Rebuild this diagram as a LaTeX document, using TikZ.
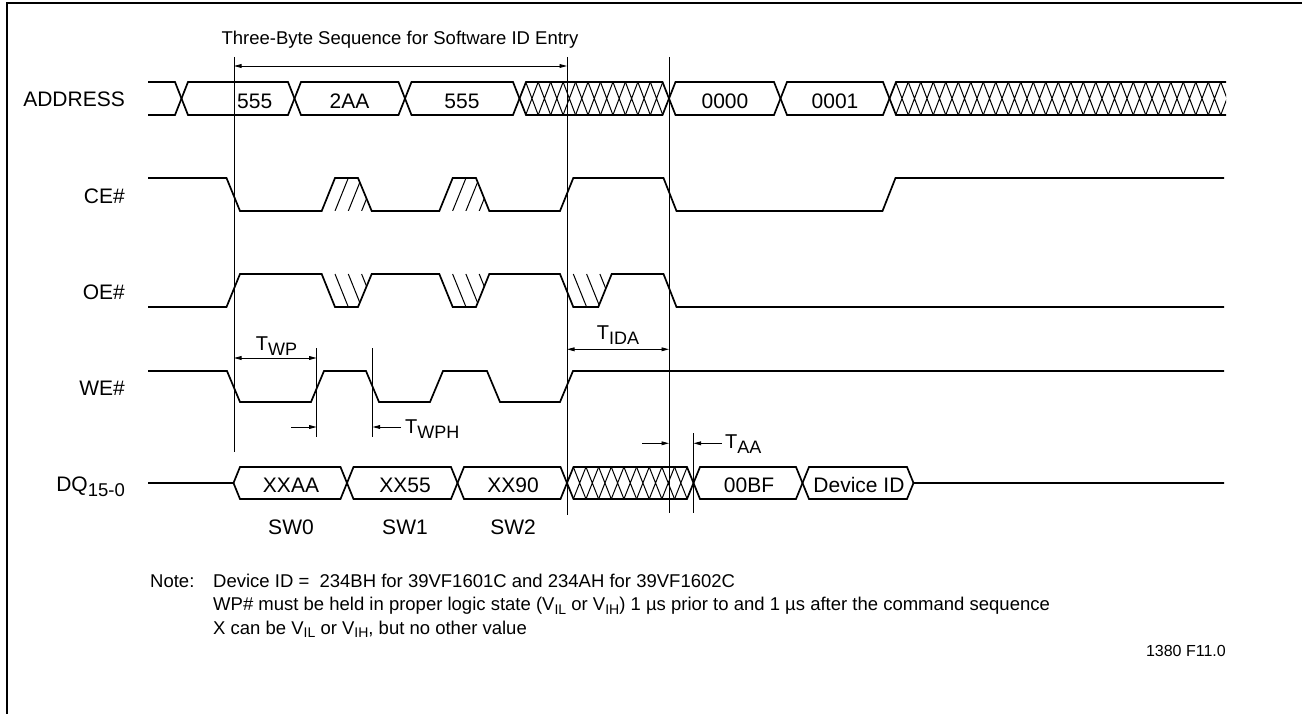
\documentclass[tikz,border=0pt]{standalone}
\usepackage{fontspec}
\setmainfont{Liberation Sans}
\usetikzlibrary{arrows.meta}
\newcommand{\tsb}[1]{\raisebox{-5.5pt}{\fontsize{18}{18}\selectfont #1}}
\newcommand{\nsb}[1]{\raisebox{-3.5pt}{\fontsize{14}{14}\selectfont #1}}
\begin{document}
\begin{tikzpicture}[x=1pt,y=-1pt,
  wave/.style={line width=1.7pt,line join=miter},
  meshline/.style={line width=1pt},
  marker/.style={line width=0.9pt},
  tip/.tip={Triangle[length=7.5pt,width=3.8pt]},
  dimboth/.style={line width=0.9pt,tip-tip},
  dimone/.style={line width=0.9pt,-tip},
  lab/.style={inner sep=0pt,anchor=base east,font=\fontsize{21}{24}\selectfont},
  bustxt/.style={inner sep=0pt,anchor=base,font=\fontsize{21}{24}\selectfont},
  tlab/.style={inner sep=0pt,anchor=base west,font=\fontsize{20}{24}\selectfont},
  note/.style={inner sep=0pt,anchor=base west,font=\fontsize{18.5}{22}\selectfont},
]
\useasboundingbox (0,0) rectangle (1302,714);
\draw[line width=2.5pt] (7,714) -- (7,3) -- (1302,3);

% title
\node[inner sep=0pt,anchor=base,font=\fontsize{18.5}{22}\selectfont] (title) at (400,45) {Three-Byte Sequence for Software ID Entry};

% signal labels
\node[lab] (laddr) at (125,107) {ADDRESS};
\node[lab] (lce) at (125,204) {CE\#};
\node[lab] (loe) at (125,300) {OE\#};
\node[lab] (lwe) at (125,395) {WE\#};
\node[lab] (ldq) at (125,491.7) {DQ\raisebox{-5pt}{\fontsize{18.5}{18}\selectfont 15-0}};

% ADDRESS bus
\draw[wave] (148,82)--(175,82)--(188,115)--(288,115)--(301,82)--(398.5,82)--(411.5,115)--(513,115)--(526,82)--(662.5,82)--(675.5,115)--(774,115)--(787,82)--(883,82)--(896,115)--(1226,115);
\draw[wave] (148,115)--(175,115)--(188,82)--(288,82)--(301,115)--(398.5,115)--(411.5,82)--(513,82)--(526,115)--(662.5,115)--(675.5,82)--(774,82)--(787,115)--(883,115)--(896,82)--(1226,82);
\foreach \k in {1,...,11}{
  \pgfmathsetmacro{\xa}{519.5+(\k-0.5)*12.458}
  \pgfmathsetmacro{\xb}{519.5+(\k+0.5)*12.458}
  \draw[meshline] (\xa,82) -- (\xb,115) (\xa,115) -- (\xb,82);
}
\begin{scope}
\clip (889.5,78) rectangle (1226,119);
\foreach \k in {1,...,27}{
  \pgfmathsetmacro{\xa}{889.5+(\k-0.5)*12.5}
  \pgfmathsetmacro{\xb}{889.5+(\k+0.5)*12.5}
  \draw[meshline] (\xa,82) -- (\xb,115) (\xa,115) -- (\xb,82);
}
\end{scope}
\node[inner sep=0pt,anchor=base west,font=\fontsize{21}{24}\selectfont] (a555a) at (237,108.3) {555};
\node[bustxt] (a2aa) at (349.5,108.3) {2AA};
\node[bustxt] (a555b) at (462,108.3) {555};
\node[bustxt] (a0000) at (725,108.3) {0000};
\node[bustxt] (a0001) at (835,108.3) {0001};

% CE#
\draw[wave] (148,178)--(226.5,178)--(240,211)--(321.7,211)--(335,178)--(358,178)--(371.7,211)--(439.3,211)--(452.7,178)--(476,178)--(489.3,211)--(560,211)--(573.3,178)--(663.5,178)--(676.5,211)--(882.5,211)--(895.5,178)--(1224,178);
\begin{scope}
\clip (321.7,211)--(335,178)--(358,178)--(371.7,211)--cycle;
\foreach \k in {1,2,3} \draw[meshline] ({321.7+\k*13.3},211)--({335+\k*13.3},178);
\end{scope}
\begin{scope}
\clip (439.3,211)--(452.7,178)--(476,178)--(489.3,211)--cycle;
\foreach \k in {1,2,3} \draw[meshline] ({439.3+\k*13.3},211)--({452.7+\k*13.3},178);
\end{scope}

% OE#
\draw[wave] (148,307)--(226.5,307)--(240,274)--(321.7,274)--(335,307)--(358,307)--(371.7,274)--(439.3,274)--(452.7,307)--(476,307)--(489.3,274)--(560,274)--(573.3,307)--(598.3,307)--(611.7,274)--(663.5,274)--(676.5,307)--(1224,307);
\begin{scope}
\clip (321.7,274)--(335,307)--(358,307)--(371.7,274)--cycle;
\foreach \k in {1,2,3} \draw[meshline] ({321.7+\k*13.3},274)--({335+\k*13.3},307);
\end{scope}
\begin{scope}
\clip (439.3,274)--(452.7,307)--(476,307)--(489.3,274)--cycle;
\foreach \k in {1,2,3} \draw[meshline] ({439.3+\k*13.3},274)--({452.7+\k*13.3},307);
\end{scope}
\begin{scope}
\clip (560,274)--(573.3,307)--(598.3,307)--(611.7,274)--cycle;
\foreach \k in {1,2,3} \draw[meshline] ({560+\k*13.3},274)--({573.3+\k*13.3},307);
\end{scope}

% WE#
\draw[wave] (148,371)--(227,371)--(240,402)--(311,402)--(324,371)--(366,371)--(379,402)--(430,402)--(443,371)--(487,371)--(500,402)--(560,402)--(573,371)--(1224,371);

% DQ bus
\draw[wave] (148,483)--(233.5,483)--(240,467)--(340.5,467)--(353.5,499)--(451,499)--(464,467)--(560.5,467)--(573.5,499)--(687,499)--(700,467)--(796,467)--(809,499)--(907,499)--(913.5,483)--(1224,483);
\draw[wave] (233.5,483)--(240,499)--(340.5,499)--(353.5,467)--(451,467)--(464,499)--(560.5,499)--(573.5,467)--(687,467)--(700,499)--(796,499)--(809,467)--(907,467)--(913.5,483);
\foreach \k in {1,...,9}{
  \pgfmathsetmacro{\xa}{567+(\k-0.5)*12.65}
  \pgfmathsetmacro{\xb}{567+(\k+0.5)*12.65}
  \draw[meshline] (\xa,467) -- (\xb,499) (\xa,499) -- (\xb,467);
}
\node[bustxt] (dxxaa) at (291,492.7) {XXAA};
\node[bustxt] (dxx55) at (405,492.7) {XX55};
\node[bustxt] (dxx90) at (513,492.7) {XX90};
\node[bustxt] (d00bf) at (749,492.7) {00BF};
\node[bustxt] (ddev) at (859,492.7) {Device ID};

\node[bustxt] (sw0) at (291,534.5) {SW0};
\node[bustxt] (sw1) at (405,534.5) {SW1};
\node[bustxt] (sw2) at (513,534.5) {SW2};

% marker lines
\coordinate (v1t) at (234,57);   \coordinate (v1b) at (234,452);
\coordinate (v2t) at (567,57);   \coordinate (v2b) at (567,515);
\coordinate (v3t) at (669,57);   \coordinate (v3b) at (669,513);
\coordinate (v4t) at (693.5,433);\coordinate (v4b) at (693.5,513);
\coordinate (v5t) at (316.6,348);\coordinate (v5b) at (316.6,437);
\coordinate (v6t) at (372.6,348);\coordinate (v6b) at (372.6,437);
\draw[marker] (v1t)--(v1b) (v2t)--(v2b) (v3t)--(v3b) (v4t)--(v4b) (v5t)--(v5b) (v6t)--(v6b);

% dimension arrows
\coordinate (ta1) at (234,66);  \coordinate (ta2) at (567,66);
\draw[dimboth] (ta1)--(ta2);
\coordinate (wp1) at (234,358); \coordinate (wp2) at (316.6,358);
\draw[dimboth] (wp1)--(wp2);
\node[tlab] (twp) at (255.6,350) {T\tsb{WP}};
\coordinate (ida1) at (567,349.3); \coordinate (ida2) at (669,349.3);
\draw[dimboth] (ida1)--(ida2);
\node[tlab] (tida) at (596.7,339.3) {T\tsb{IDA}};
\coordinate (wph1) at (291,427); \coordinate (wph2) at (316.6,427);
\coordinate (wph3) at (401,427); \coordinate (wph4) at (372.6,427);
\draw[dimone] (wph1)--(wph2);
\draw[dimone] (wph3)--(wph4);
\node[tlab] (twph) at (405,433.3) {T\tsb{WPH}};
\coordinate (aa1) at (642,443.3); \coordinate (aa2) at (669,443.3);
\coordinate (aa3) at (721.7,443.3); \coordinate (aa4) at (693.5,443.3);
\draw[dimone] (aa1)--(aa2);
\draw[dimone] (aa3)--(aa4);
\node[tlab] (taa) at (725,448) {T\tsb{AA}};

% notes
\node[note] (notehd) at (150,587) {Note:};
\node[note] (note1) at (213,587) {Device ID =\ \ 234BH for 39VF1601C and 234AH for 39VF1602C};
\node[note] (note2) at (213,610.5) {WP\# must be held in proper logic state (V\nsb{IL} or V\nsb{IH}) 1 µs prior to and 1 µs after the command sequence};
\node[note] (note3) at (213,634) {X can be V\nsb{IL} or V\nsb{IH}, but no other value};
\node[inner sep=0pt,anchor=base east,font=\fontsize{16}{18}\selectfont] (fig) at (1226,656.5) {1380 F11.0};
\end{tikzpicture}
\end{document}
